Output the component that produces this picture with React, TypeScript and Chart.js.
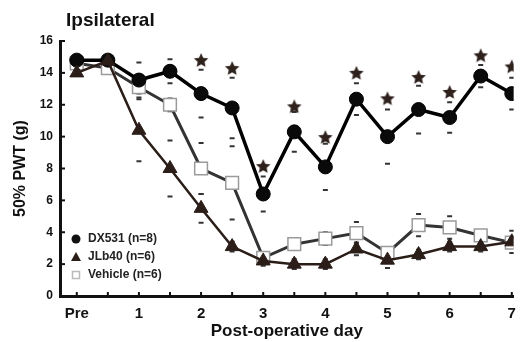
import { useEffect, useRef } from 'react';
import { Chart, registerables } from 'chart.js';
Chart.register(...registerables);

const xLabels = ['Pre', '', '1', '', '2', '', '3', '', '4', '', '5', '', '6', '', '7'];
const yTicks = [0, 2, 4, 6, 8, 10, 12, 14, 16];

const dx531 = [14.8, 14.8, 13.55, 14.1, 12.7, 11.8, 6.4, 10.3, 8.1, 12.35, 10.0, 11.7, 11.2, 13.8, 12.7];
const dx531Err = [0.15, 0.15, 1.1, 0.75, 1.5, 1.9, 1.1, 1.25, 1.45, 1.0, 1.7, 1.5, 0.95, 0.7, 1.0];

const lb40 = [14.0, 14.75, 10.4, 8.0, 5.5, 3.1, 2.2, 2.0, 2.0, 2.95, 2.25, 2.6, 3.1, 3.1, 3.4];
const lb40Err = [0.15, 0.15, 1.95, 1.75, 0.9, 0.3, 0.3, 0.3, 0.3, 0.4, 0.5, 0.3, 0.3, 0.3, 0.7];

const vehicle = [14.6, 14.3, 13.1, 12.0, 8.0, 7.1, 2.4, 3.25, 3.6, 3.95, 2.7, 4.45, 4.3, 3.8, 3.35];
const vehicleErr = [0.15, 0.15, 0.4, 0.4, 1.6, 2.3, 0.3, 0.3, 0.4, 0.7, 0.3, 0.7, 0.7, 0.3, 0.3];

const starIdx = [4, 5, 6, 7, 8, 9, 10, 11, 12, 13, 14];
const starY = [14.8, 14.3, 8.15, 11.9, 9.97, 14.0, 12.4, 13.74, 12.8, 15.1, 14.4];

const seriesNames = ['DX531 (n=8)', 'JLb40 (n=6)', 'Vehicle (n=6)'];

const FONT = '"Liberation Sans", Arial, sans-serif';

export default function App() {
  const ref = useRef<HTMLCanvasElement>(null);
  useEffect(() => {
    document.body.style.margin = '0';
    const canvas = ref.current!;

    const star = document.createElement('canvas');
    star.width = 16;
    star.height = 16;
    const sc = star.getContext('2d')!;
    sc.fillStyle = '#2e211c';
    sc.beginPath();
    for (let k = 0; k < 10; k++) {
      const r = k % 2 === 0 ? 7.6 : 3.6;
      const a = -Math.PI / 2 + (k * Math.PI) / 5;
      const px = 8 + r * Math.cos(a);
      const py = 8.6 + r * Math.sin(a);
      if (k === 0) sc.moveTo(px, py);
      else sc.lineTo(px, py);
    }
    sc.closePath();
    sc.fill();

    const pts = (arr: number[]) => arr.map((v, i) => ({ x: i, y: v }));
    const caps = (arr: number[], err: number[]) =>
      arr.flatMap((v, i) => [
        { x: i, y: v + err[i] },
        { x: i, y: v - err[i] },
      ]);

    const decor = {
      id: 'decor',
      beforeDatasetsDraw(chart: any) {
        const { ctx, scales, chartArea } = chart;
        const x = scales.x;
        const y = scales.y;
        ctx.save();
        ctx.strokeStyle = '#111';
        ctx.lineWidth = 2;
        x.ticks.forEach((t: any) => {
          const px = x.getPixelForValue(t.value);
          ctx.beginPath();
          ctx.moveTo(px, chartArea.bottom);
          ctx.lineTo(px, chartArea.bottom - 4);
          ctx.stroke();
        });
        y.ticks.forEach((t: any) => {
          const py = y.getPixelForValue(t.value);
          ctx.beginPath();
          ctx.moveTo(chartArea.left, py);
          ctx.lineTo(chartArea.left + 5, py);
          ctx.stroke();
        });
        ctx.restore();
      },
      afterDraw(chart: any) {
        const { ctx } = chart;
        ctx.save();
        ctx.fillStyle = '#111';
        ctx.font = `bold 19px ${FONT}`;
        ctx.textBaseline = 'alphabetic';
        ctx.fillText('Ipsilateral', 66, 26);

        const rows = [239, 257, 275];
        const mx = 76;
        ctx.font = `bold 12px ${FONT}`;
        ctx.textBaseline = 'middle';
        ctx.fillStyle = '#111';
        ctx.beginPath();
        ctx.arc(mx, rows[0], 4.5, 0, Math.PI * 2);
        ctx.fill();
        ctx.fillStyle = '#2b1d18';
        ctx.beginPath();
        ctx.moveTo(mx, rows[1] - 5);
        ctx.lineTo(mx + 5, rows[1] + 4);
        ctx.lineTo(mx - 5, rows[1] + 4);
        ctx.closePath();
        ctx.fill();
        ctx.strokeStyle = '#bbbbbb';
        ctx.lineWidth = 1.5;
        ctx.strokeRect(mx - 3.5, rows[2] - 3.5, 7, 7);

        ctx.fillStyle = '#222';
        seriesNames.forEach((n, i) => ctx.fillText(n, 88, rows[i]));
        ctx.restore();
      },
    };

    const chart = new Chart(canvas, {
      type: 'line',
      data: {
        datasets: [
          {
            type: 'scatter',
            data: starIdx.map((xi, i) => ({ x: xi, y: starY[i] })),
            pointStyle: star as any,
            showLine: false,
            order: 1,
          } as any,
          {
            label: seriesNames[1],
            data: pts(lb40),
            borderColor: '#2b1d18',
            backgroundColor: '#2b1d18',
            borderWidth: 2.5,
            pointStyle: 'triangle',
            pointRadius: 8,
            pointBorderWidth: 1,
            order: 2,
          },
          {
            label: seriesNames[0],
            data: pts(dx531),
            borderColor: '#000',
            backgroundColor: '#0a0a0a',
            borderWidth: 3.5,
            pointStyle: 'circle',
            pointRadius: 7,
            pointBorderWidth: 1,
            order: 3,
          },
          {
            label: seriesNames[2],
            data: pts(vehicle),
            borderColor: '#333',
            backgroundColor: '#fff',
            pointBorderColor: '#9a9a9a',
            borderWidth: 3,
            pointStyle: 'rect',
            pointRadius: 9,
            pointBorderWidth: 1.5,
            order: 4,
          },
          {
            type: 'scatter',
            data: [...caps(dx531, dx531Err), ...caps(lb40, lb40Err), ...caps(vehicle, vehicleErr)],
            pointStyle: 'line',
            pointRadius: 2.5,
            borderColor: '#333',
            borderWidth: 2,
            showLine: false,
            order: 5,
          } as any,
        ],
      },
      options: {
        animation: false,
        responsive: false,
        devicePixelRatio: 1,
        layout: { padding: { top: 41, right: 3, left: 0, bottom: 0 } },
        plugins: { legend: { display: false }, title: { display: false }, tooltip: { enabled: false } },
        scales: {
          x: {
            type: 'linear',
            min: -0.54,
            max: 14.06,
            afterBuildTicks: (s: any) => {
              s.ticks = xLabels.map((_, i) => ({ value: i }));
            },
            afterFit: (s: any) => {
              s.height = 46;
            },
            ticks: {
              callback: (_v: any, i: number) => xLabels[i] ?? '',
              font: { size: 15, weight: 'bold', family: FONT },
              color: '#111',
              padding: 9,
              maxRotation: 0,
              autoSkip: false,
            },
            grid: { display: false, drawTicks: false },
            border: { display: true, width: 3, color: '#111' },
            title: {
              display: true,
              text: 'Post-operative day',
              font: { size: 17, weight: 'bold', family: FONT },
              color: '#111',
              padding: { top: 0, bottom: 0 },
            },
          },
          y: {
            min: 0,
            max: 16,
            afterBuildTicks: (s: any) => {
              s.ticks = yTicks.map((v) => ({ value: v }));
            },
            afterFit: (s: any) => {
              s.width = 60;
            },
            ticks: {
              callback: (v: any) => String(v),
              font: { size: 12, weight: 'bold', family: FONT },
              color: '#111',
              padding: 7,
            },
            grid: { display: false, drawTicks: false },
            border: { display: true, width: 3, color: '#111' },
            title: {
              display: true,
              text: '50% PWT (g)',
              font: { size: 16, weight: 'bold', family: FONT },
              color: '#111',
              padding: { top: 11, bottom: 0 },
            },
          },
        },
      } as any,
      plugins: [decor],
    });
    return () => chart.destroy();
  }, []);
  return <canvas ref={ref} width={525} height={342} style={{ display: 'block' }} />;
}
